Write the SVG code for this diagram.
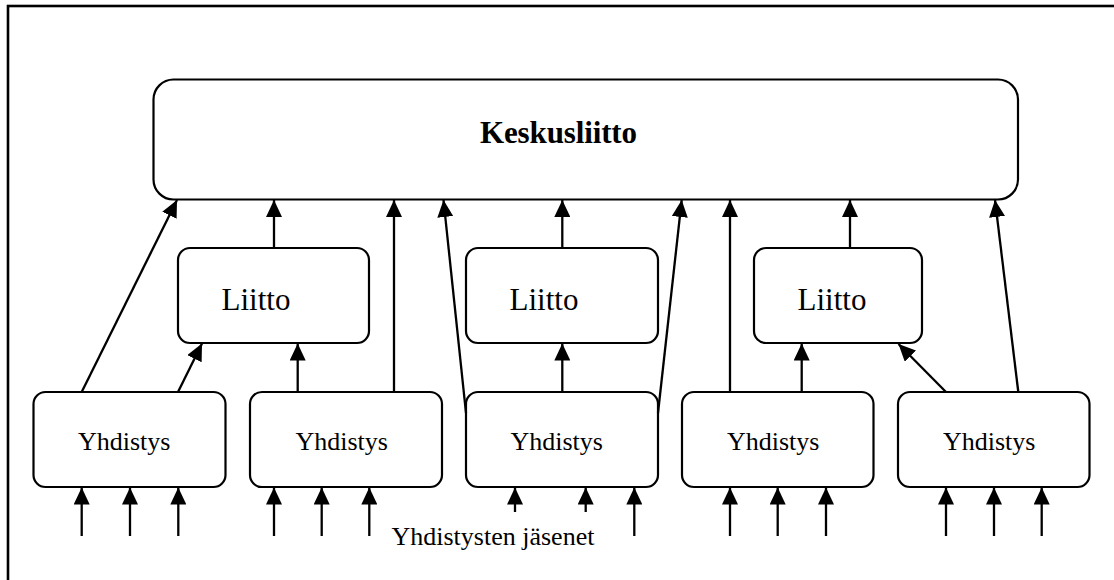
<svg xmlns="http://www.w3.org/2000/svg" width="1114" height="580" viewBox="0 0 1114 580">
<style>
.box{fill:#fff;stroke:#000;stroke-width:2.2}
.t{font-family:"Liberation Serif","Times New Roman",serif;fill:#000}
.c line{stroke:#000;stroke-width:2.3;marker-end:url(#ah)}
</style>
<defs>
<marker id="ah" markerUnits="userSpaceOnUse" markerWidth="17" markerHeight="16" refX="17" refY="8" orient="auto" viewBox="0 0 17 16">
<path d="M0,0 L17,8 L0,16 z" fill="#000"/>
</marker>
</defs>
<rect width="1114" height="580" fill="#fff"/>
<rect x="8" y="6" width="1200" height="700" fill="none" stroke="#000" stroke-width="2.6"/>
<g id="keskusliitto">
<rect class="box" x="153.5" y="79.5" width="864.5" height="120" rx="20"/>
<text class="t" x="480" y="143" font-size="31" font-weight="bold" textLength="157">Keskusliitto</text>
</g>
<g id="liitto1">
<rect class="box" x="178" y="248" width="191" height="95" rx="12"/>
<text class="t" x="221.5" y="310" font-size="31">Liitto</text>
</g>
<g id="liitto2">
<rect class="box" x="466" y="248" width="192" height="95" rx="12"/>
<text class="t" x="509.5" y="310" font-size="31">Liitto</text>
</g>
<g id="liitto3">
<rect class="box" x="754" y="248" width="168" height="95" rx="12"/>
<text class="t" x="797.5" y="310" font-size="31">Liitto</text>
</g>
<g id="yhdistys1">
<rect class="box" x="33.5" y="392" width="192" height="95" rx="12"/>
<text class="t" x="78" y="450" font-size="26">Yhdistys</text>
</g>
<g id="yhdistys2">
<rect class="box" x="250" y="392" width="192" height="95" rx="12"/>
<text class="t" x="295.5" y="450" font-size="26">Yhdistys</text>
</g>
<g id="yhdistys3">
<rect class="box" x="466" y="392" width="192" height="95" rx="12"/>
<text class="t" x="510.5" y="450" font-size="26">Yhdistys</text>
</g>
<g id="yhdistys4">
<rect class="box" x="682" y="392" width="191.5" height="95" rx="12"/>
<text class="t" x="727" y="450" font-size="26">Yhdistys</text>
</g>
<g id="yhdistys5">
<rect class="box" x="898" y="392" width="191.5" height="95" rx="12"/>
<text class="t" x="943" y="450" font-size="26">Yhdistys</text>
</g>
<g id="jasenet-label">
<text class="t" x="391.5" y="545" font-size="26">Yhdistysten jäsenet</text>
</g>
<g class="c" id="connectors">
<line x1="81.7" y1="392" x2="177" y2="200"/>
<line x1="178" y1="392" x2="202" y2="343.5"/>
<line x1="274" y1="248" x2="274" y2="200"/>
<line x1="297.7" y1="392" x2="297.7" y2="343.5"/>
<line x1="394" y1="392" x2="394" y2="200"/>
<line x1="466" y1="413" x2="443.5" y2="200"/>
<line x1="562.3" y1="248" x2="562.3" y2="200"/>
<line x1="562.3" y1="392" x2="562.3" y2="343.5"/>
<line x1="658" y1="413" x2="681.7" y2="200"/>
<line x1="730" y1="392" x2="730" y2="200"/>
<line x1="850" y1="248" x2="850" y2="200"/>
<line x1="801.7" y1="392" x2="801.7" y2="343.5"/>
<line x1="946" y1="392" x2="898.5" y2="344"/>
<line x1="1018.3" y1="392" x2="995" y2="200"/>
<line x1="81.7" y1="536" x2="81.7" y2="487.5"/>
<line x1="130" y1="536" x2="130" y2="487.5"/>
<line x1="178.3" y1="536" x2="178.3" y2="487.5"/>
<line x1="274" y1="536" x2="274" y2="487.5"/>
<line x1="321.7" y1="536" x2="321.7" y2="487.5"/>
<line x1="369.3" y1="536" x2="369.3" y2="487.5"/>
<line x1="515" y1="512" x2="515" y2="487.5"/>
<line x1="585.7" y1="512" x2="585.7" y2="487.5"/>
<line x1="634.3" y1="536" x2="634.3" y2="487.5"/>
<line x1="730" y1="536" x2="730" y2="487.5"/>
<line x1="777.7" y1="536" x2="777.7" y2="487.5"/>
<line x1="826" y1="536" x2="826" y2="487.5"/>
<line x1="946" y1="536" x2="946" y2="487.5"/>
<line x1="994" y1="536" x2="994" y2="487.5"/>
<line x1="1041.7" y1="536" x2="1041.7" y2="487.5"/>
</g>
</svg>
